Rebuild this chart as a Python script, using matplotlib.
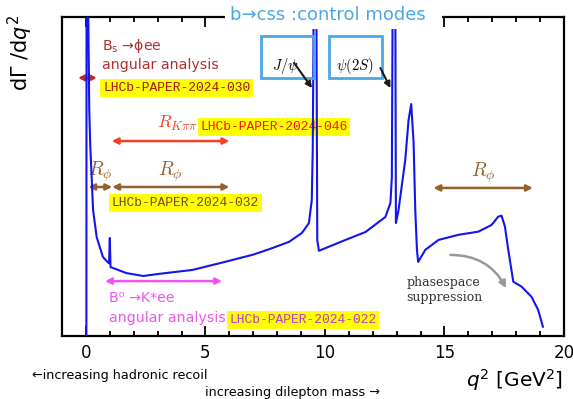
import matplotlib
matplotlib.use("Agg")
import matplotlib.pyplot as plt
from matplotlib.patches import Rectangle
from matplotlib.ticker import MultipleLocator

plt.rcParams['mathtext.fontset'] = 'cm'

# --- data (rate in arbitrary units, axis top = 1) ---
q2 = [0.02, 0.03, 0.08, 0.10, 0.14, 0.18, 0.24, 0.30, 0.45, 0.71, 0.90, 0.97,
      1.00, 1.03, 1.7, 2.4, 3.1, 4.46, 5.86, 7.0, 7.67, 8.5, 9.04, 9.33, 9.45,
      9.49, 9.52, 9.55, 9.62, 9.68, 9.75, 10.86, 11.7, 12.53, 12.74, 12.80,
      12.86, 12.93, 12.97, 13.08, 13.36, 13.50, 13.61, 13.71, 13.78, 13.85,
      13.9, 14.2, 14.75, 15.58, 16.42, 16.97, 17.25, 17.39, 17.53, 17.67,
      17.88, 18.22, 18.64, 18.92, 19.12]
rate = [0.0, 1.5, 1.5, 1.0, 0.71, 0.60, 0.50, 0.395, 0.31, 0.248, 0.232, 0.228,
        0.307, 0.216, 0.197, 0.188, 0.195, 0.207, 0.233, 0.255, 0.272, 0.295,
        0.323, 0.354, 0.426, 0.583, 0.9, 1.5, 1.5, 0.30, 0.267, 0.301, 0.326,
        0.373, 0.417, 0.498, 1.5, 1.5, 0.354, 0.395, 0.552, 0.677, 0.727,
        0.605, 0.395, 0.27, 0.232, 0.27, 0.301, 0.317, 0.327, 0.348, 0.374,
        0.377, 0.343, 0.270, 0.170, 0.155, 0.123, 0.082, 0.029]

xticks = [0, 5, 10, 15, 20]

# analysis ranges: (q2_lo, q2_hi, arrow height)
bs_range = (-0.33, 0.46, 0.809)
kpipi_range = (1.08, 6.0, 0.611)
rphi_ranges = [(0.1, 1.1, 0.467), (1.1, 6.0, 0.467), (14.54, 18.7, 0.464)]
b0_range = (0.8, 5.7, 0.172)

BLUE = '#1414f0'
LBLUE = '#4aa8e6'
DRED = '#b03030'
RED = '#f04228'
BROWN = '#96602c'
MAG = '#ee55ee'
YEL = '#ffff00'

fig = plt.figure(figsize=(5.73, 3.99), dpi=100)
ax = fig.add_axes([0.1082, 0.158, 0.876, 0.7995])

ax.plot(q2, rate, color=BLUE, lw=1.5, zorder=5)
ax.set_xlim(-1, 20)
ax.set_ylim(0, 1)
ax.set_yticks([])
ax.set_xticks(xticks)
ax.xaxis.set_minor_locator(MultipleLocator(1))
ax.tick_params(axis='x', which='both', direction='in', top=True, width=1.3)
ax.tick_params(axis='x', which='major', length=7, labelsize=12, pad=6)
ax.tick_params(axis='x', which='minor', length=3.5)
for s in ax.spines.values():
    s.set_linewidth(1.6)

def dbl_arrow(x0, x1, y, color):
    ax.annotate('', xy=(x1, y), xytext=(x0, y),
                arrowprops=dict(arrowstyle='<|-|>', color=color, lw=1.8,
                                mutation_scale=9, shrinkA=0, shrinkB=0),
                annotation_clip=False)

def paper(x, y, txt, color):
    ax.text(x, y, txt, color=color, family='Liberation Mono', fontsize=9.4,
            va='center', ha='left',
            bbox=dict(boxstyle='square,pad=0.2', fc=YEL, ec='none'))

# Bs -> phi ee
dbl_arrow(*bs_range, DRED)
ax.text(0.67, 0.909, 'B$_\\mathrm{s}$ →ϕee', color=DRED, fontsize=10.2,
        va='center', math_fontfamily='dejavusans')
ax.text(0.67, 0.85, 'angular analysis', color=DRED, fontsize=10.2, va='center')
paper(0.72, 0.777, 'LHCb-PAPER-2024-030', '#a01818')

# R_Kpipi
dbl_arrow(*kpipi_range, RED)
ax.text(2.96, 0.668, '$R_{K\\pi\\pi}$', color=RED, fontsize=13, va='center')
paper(4.8, 0.655, 'LHCb-PAPER-2024-046', '#ff1010')

# R_phi
for lo, hi, y in rphi_ranges:
    dbl_arrow(lo, hi, y, BROWN)
    ax.text((lo + hi) / 2, y + 0.047, '$R_\\phi$', color=BROWN, fontsize=14,
            ha='center', va='center')
paper(1.08, 0.417, 'LHCb-PAPER-2024-032', '#7a4a1a')

# B0 -> K* ee
dbl_arrow(*b0_range, MAG)
ax.text(0.96, 0.119, 'B⁰ →K*ee', color=MAG, fontsize=10.2, va='center')
ax.text(0.96, 0.056, 'angular analysis', color=MAG, fontsize=10.2, va='center')
paper(6.0, 0.05, 'LHCb-PAPER-2024-022', '#c838c8')

# control mode boxes
for x0, x1, lab, tx in [(7.33, 9.54, '$J/\\psi$', 8.35),
                        (10.17, 12.375, '$\\psi(2S)$', 11.27)]:
    ax.add_patch(Rectangle((x0, 0.809), x1 - x0, 0.131, fill=False,
                           ec=LBLUE, lw=2, clip_on=False, zorder=6))
    ax.text(tx, 0.845, lab, fontsize=10.5, ha='center', va='center', zorder=6)
for (xa, ya), (xb, yb) in [((8.71, 0.856), (9.46, 0.777)),
                           ((12.32, 0.84), (12.74, 0.777))]:
    ax.annotate('', xy=(xb, yb), xytext=(xa, ya),
                arrowprops=dict(arrowstyle='-|>', color='#1a1a1a', lw=1.5,
                                mutation_scale=9, shrinkA=0, shrinkB=0),
                zorder=7)

# phase space suppression
ax.annotate('', xy=(17.58, 0.150), xytext=(15.25, 0.254),
            arrowprops=dict(arrowstyle='-|>', color='#999999', lw=1.8,
                            mutation_scale=10, shrinkA=0, shrinkB=0,
                            connectionstyle='arc3,rad=-0.3'))
ax.text(13.42, 0.169, 'phasespace', family='DejaVu Serif', fontsize=9,
        color='#333333', va='center')
ax.text(13.42, 0.122, 'suppression', family='DejaVu Serif', fontsize=9,
        color='#333333', va='center')

# header area: white gap over the top spine and the title
fig.patches.append(Rectangle((0.3927, 0.9273), 0.3787, 0.065, fc='white',
                             ec='none', transform=fig.transFigure, zorder=1))
fig.text(0.573, 0.962, 'b→css :control modes', color=LBLUE, fontsize=13,
         ha='center', va='center', zorder=3)

fig.text(0.035, 0.866, 'dΓ /d$q^2$', rotation=90, fontsize=15, ha='center',
         va='center', math_fontfamily='dejavusans')
fig.text(0.9825, 0.048, '$q^2$ [GeV$^2$]', fontsize=14.5, ha='right',
         va='center', math_fontfamily='dejavusans')
fig.text(0.056, 0.06, '←increasing hadronic recoil', fontsize=9.2,
         va='center')
fig.text(0.358, 0.0175, 'increasing dilepton mass →', fontsize=9.2,
         va='center')

fig.savefig('out.png', dpi=100)
